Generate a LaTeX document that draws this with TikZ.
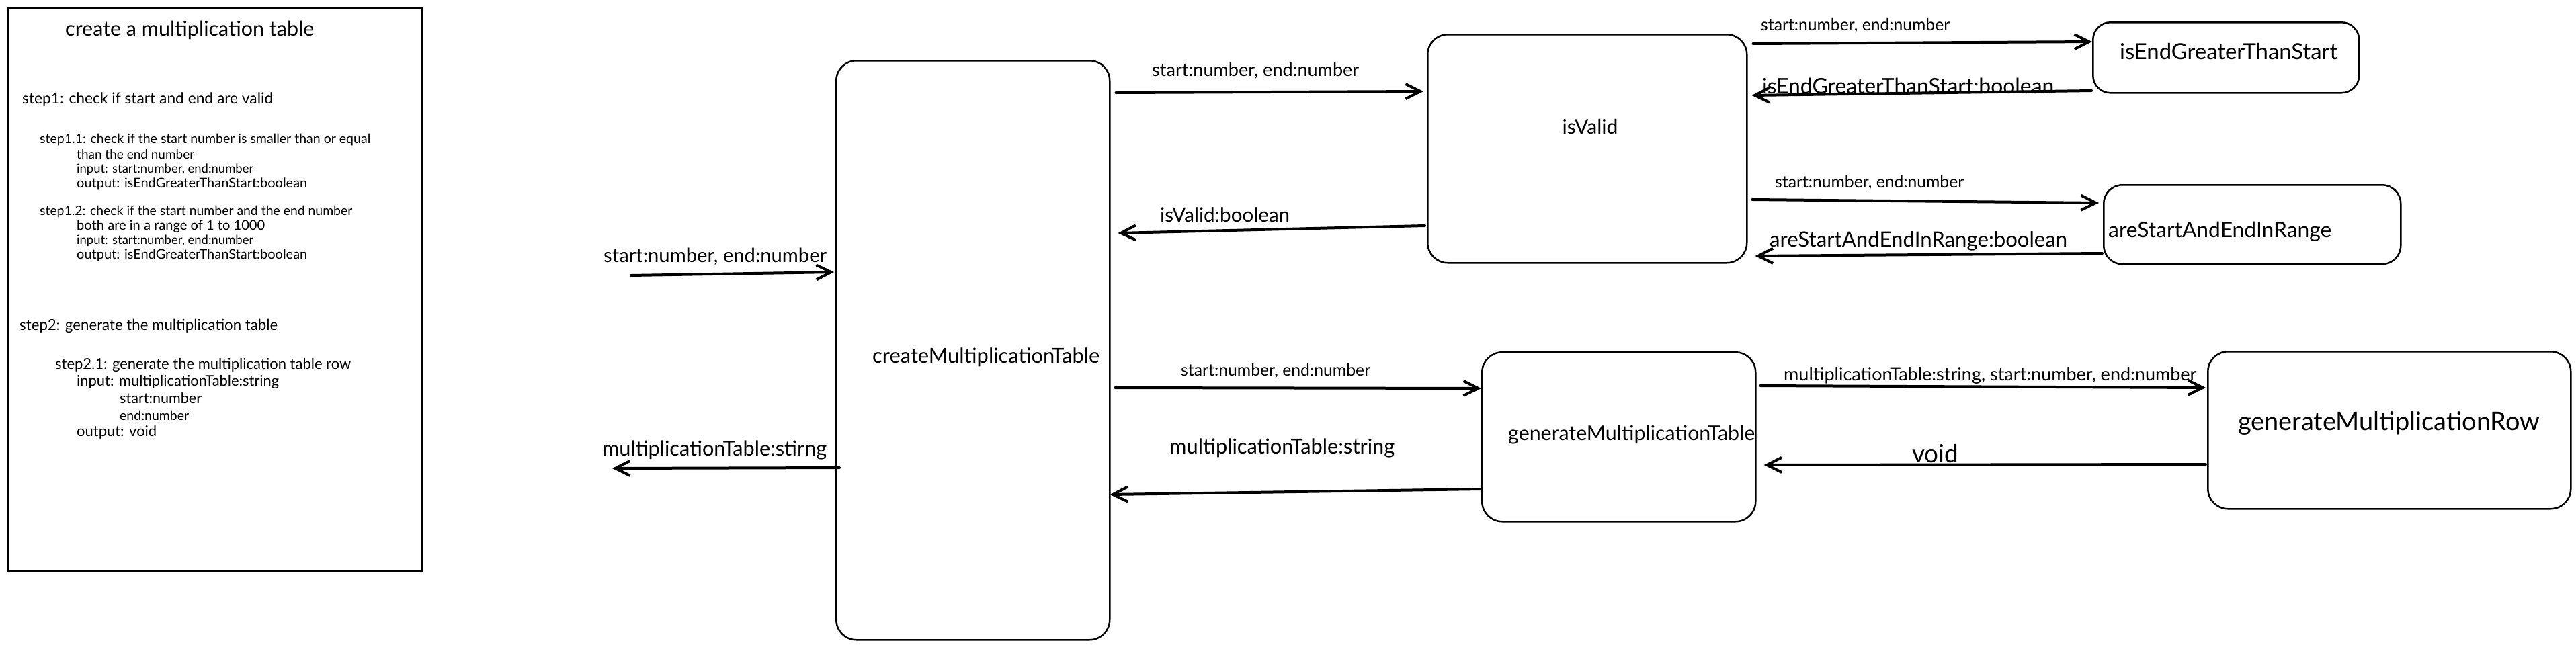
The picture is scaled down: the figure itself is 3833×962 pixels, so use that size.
\documentclass[tikz,border=0pt]{standalone}
\usepackage{fontspec}
\setmainfont{Lato}
\usetikzlibrary{arrows.meta,calc}
\newcommand\fitw[2]{\resizebox{#1pt}{!}{#2}}
\begin{document}
\begin{tikzpicture}[x=1pt,y=-1pt,
  box/.style={draw=black, line width=2.5pt, rounded corners=30pt, inner sep=0pt, anchor=north west},
  panel/.style={draw=black, line width=3.5pt, inner sep=0pt, anchor=north west},
  txt/.style={inner sep=0pt, anchor=west, text=black},
  arr/.style={line width=4pt, line cap=round, -{Straight Barb[length=22pt,width=22pt]}},
]
\useasboundingbox[fill=white] (0,0) rectangle (3833,962);

% boxes
\node[panel, minimum width=616pt, minimum height=838pt] (panel) at (10,10) {};
\node[box, minimum width=407pt, minimum height=862pt] (cmt) at (1243,89) {};
\node[box, minimum width=475pt, minimum height=340pt] (isv) at (2123,50) {};
\node[box, rounded corners=26pt, minimum width=396pt, minimum height=105pt] (iegts) at (3113,32) {};
\node[box, rounded corners=28pt, minimum width=442pt, minimum height=118pt] (asae) at (3129,274) {};
\node[box, minimum width=407pt, minimum height=252pt] (gmt) at (2204,523) {};
\node[box, minimum width=540pt, minimum height=234pt] (gmr) at (3284,522) {};

% box labels
\node[txt] (tcmt) at (1298,532) {\fitw{338}{createMultiplicationTable}};
\node[txt, anchor=center] (tisv) at (2366,188) {\fitw{83}{isValid}};
\node[txt] (tiegts) at (3154,77) {\fitw{324}{isEndGreaterThanStart}};
\node[txt] (tasae) at (3137,345) {\fitw{332}{areStartAndEndInRange}};
\node[txt] (tgmt) at (2244,647) {\fitw{367}{generateMultiplicationTable}};
\node[txt] (tgmr) at (3330,630) {\fitw{449}{generateMultiplicationRow}};

% panel text
\node[txt] (title) at (97,45) {\fitw{370}{create a multiplication table}};
\node[txt] (s1) at (33,148) {\fitw{373}{step1: check if start and end are valid}};
\node[txt] (s11) at (59,208) {\fitw{492}{step1.1: check if the start number is smaller than or equal}};
\node[txt] (s11a) at (114,230) {\fitw{175}{than the end number}};
\node[txt] (s11b) at (114,252) {\fitw{263}{input: start:number, end:number}};
\node[txt] (s11c) at (114,274) {\fitw{343}{output: isEndGreaterThanStart:boolean}};
\node[txt] (s12) at (59,315) {\fitw{465}{step1.2: check if the start number and the end number}};
\node[txt] (s12a) at (114,337) {\fitw{280}{both are in a range of 1 to 1000}};
\node[txt] (s12b) at (114,358) {\fitw{263}{input: start:number, end:number}};
\node[txt] (s12c) at (114,380) {\fitw{343}{output: isEndGreaterThanStart:boolean}};
\node[txt] (s2) at (29,485) {\fitw{384}{step2: generate the multiplication table}};
\node[txt] (s21) at (82,543) {\fitw{440}{step2.1: generate the multiplication table row}};
\node[txt] (s21a) at (114,568) {\fitw{301}{input: multiplicationTable:string}};
\node[txt] (s21b) at (178,593) {\fitw{122}{start:number}};
\node[txt] (s21c) at (178,618) {\fitw{103}{end:number}};
\node[txt] (s21d) at (114,643) {\fitw{119}{output: void}};

% free ends
\coordinate (inS) at (939,410);
\coordinate (outE) at (911,697);

% connectors
\draw[arr] (inS) -- ($(cmt.west|-0,405)+(-2,0)$);
\draw[arr] ($(cmt.west|-0,696)+(6,0)$) -- (outE);
\draw[arr] ($(cmt.east|-0,138)+(8,0)$) -- ($(isv.west|-0,136)+(-5,0)$);
\draw[arr] ($(isv.west|-0,336)+(-3,0)$) -- ($(cmt.east|-0,347)+(11,0)$);
\draw[arr] ($(isv.east|-0,65)+(8,0)$) -- ($(iegts.west|-0,62)$);
\draw[arr] ($(iegts.west|-0,135)+(-1,0)$) -- ($(isv.east|-0,142)+(6,0)$);
\draw[arr] ($(isv.east|-0,297)+(7,0)$) -- ($(asae.west|-0,302)+(-6,0)$);
\draw[arr] ($(asae.west|-0,377)+(-1,0)$) -- ($(isv.east|-0,381)+(11,0)$);
\draw[arr] ($(cmt.east|-0,577)+(7,0)$) -- ($(gmt.west|-0,578)$);
\draw[arr] ($(gmt.west|-0,728)$) -- ($(cmt.east|-0,736)+(-1,0)$);
\draw[arr] ($(gmt.east|-0,574)+(6,0)$) -- ($(gmr.west|-0,577)+(-2,0)$);
\draw[arr] ($(gmr.west|-0,691)+(-2,0)$) -- ($(gmt.east|-0,692)+(11,0)$);

% connector labels
\node[txt] (l1) at (898,382) {\fitw{332}{start:number, end:number}};
\node[txt] (l2) at (896,670) {\fitw{334}{multiplicationTable:stirng}};
\node[txt] (l3) at (1714,105) {\fitw{308}{start:number, end:number}};
\node[txt] (l4) at (1726,320) {\fitw{193}{isValid:boolean}};
\node[txt] (l5) at (2620,38) {\fitw{281}{start:number, end:number}};
\node[txt] (l6) at (2622,128) {\fitw{434}{isEndGreaterThanStart:boolean}};
\node[txt] (l7) at (2641,272) {\fitw{281}{start:number, end:number}};
\node[txt] (l8) at (2633,359) {\fitw{443}{areStartAndEndInRange:boolean}};
\node[txt] (l9) at (1757,552) {\fitw{282}{start:number, end:number}};
\node[txt] (l10) at (1740,667) {\fitw{335}{multiplicationTable:string}};
\node[txt] (l11) at (2654,559) {\fitw{614}{multiplicationTable:string, start:number, end:number}};
\node[txt] (l12) at (2845,675) {\fitw{69}{void}};
\end{tikzpicture}
\end{document}
